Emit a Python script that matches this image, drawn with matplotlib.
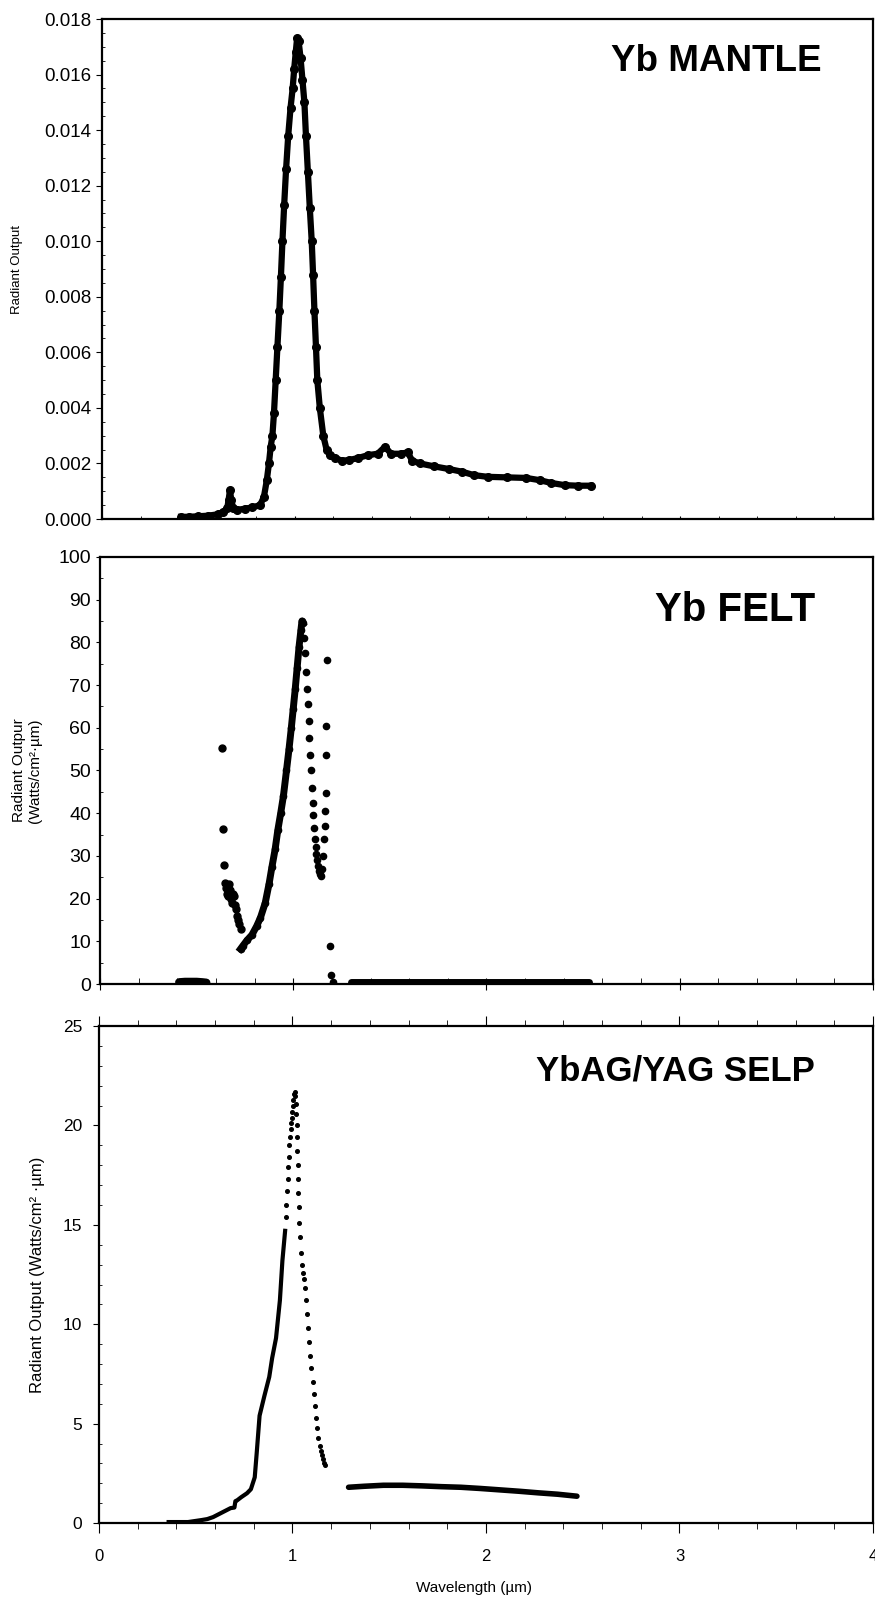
import matplotlib
matplotlib.use("Agg")
import matplotlib.pyplot as plt
from matplotlib.ticker import MultipleLocator, FormatStrFormatter

# ---- Yb MANTLE (top panel) ----
mantle_wl = [0.41, 0.45, 0.50, 0.55, 0.60, 0.63, 0.65, 0.657, 0.664, 0.67, 0.68, 0.70,
             0.74, 0.78, 0.82, 0.84, 0.855, 0.866, 0.875, 0.884, 0.892, 0.901, 0.910,
             0.920, 0.928, 0.936, 0.945, 0.955, 0.966, 0.978, 0.989, 0.997, 1.005, 1.012,
             1.020, 1.030, 1.040, 1.050, 1.058, 1.068, 1.078, 1.088, 1.095, 1.102, 1.110,
             1.117, 1.130, 1.148, 1.165, 1.183, 1.21, 1.243, 1.28, 1.33, 1.38, 1.43,
             1.468, 1.50, 1.55, 1.585, 1.61, 1.65, 1.72, 1.80, 1.87, 1.93, 2.00, 2.10,
             2.20, 2.27, 2.33, 2.40, 2.47, 2.535]
mantle_out = [0.00008, 0.00008, 0.0001, 0.00012, 0.00017, 0.00025, 0.0004, 0.0007, 0.00105,
              0.0007, 0.0004, 0.00033, 0.00037, 0.00042, 0.0005, 0.0008, 0.0014, 0.002,
              0.0026, 0.003, 0.0038, 0.005, 0.0062, 0.0075, 0.0087, 0.010, 0.0113, 0.0126,
              0.0138, 0.0148, 0.0155, 0.0162, 0.0168, 0.0173, 0.0172, 0.0166, 0.0158,
              0.0150, 0.0138, 0.0125, 0.0112, 0.0100, 0.0088, 0.0075, 0.0062, 0.0050,
              0.0040, 0.0030, 0.0025, 0.0023, 0.0022, 0.0021, 0.00212, 0.0022, 0.0023,
              0.00235, 0.0026, 0.00235, 0.00235, 0.0024, 0.0021, 0.0020, 0.0019, 0.0018,
              0.0017, 0.00158, 0.00152, 0.0015, 0.00148, 0.0014, 0.0013, 0.00122,
              0.0012, 0.0012]

# ---- Yb FELT (middle panel) ----
felt_low_wl = [0.41, 0.44, 0.47, 0.50, 0.53, 0.55]
felt_low_out = [0.4, 0.5, 0.5, 0.5, 0.4, 0.3]
felt_spot_wl = [0.632, 0.638, 0.641, 0.645, 0.652, 0.655, 0.660, 0.665, 0.672, 0.678,
                0.685, 0.690, 0.695, 0.700, 0.705, 0.710, 0.715, 0.720, 0.727]
felt_spot_out = [55.2, 36.2, 27.8, 23.7, 22.5, 21.0, 20.5, 23.5, 22.0, 20.0,
                 19.0, 21.0, 20.5, 18.5, 17.5, 16.0, 15.0, 14.0, 12.8]
felt_rise_wl = [0.727, 0.74, 0.76, 0.786, 0.81, 0.83, 0.855, 0.875, 0.89, 0.906, 0.92,
                0.935, 0.949, 0.965, 0.978, 0.99, 1.0, 1.01, 1.02, 1.03, 1.04, 1.045, 1.05]
felt_rise_out = [8.2, 9.0, 10.2, 11.5, 13.5, 15.5, 19.0, 23.5, 27.5, 31.5, 36.0,
                 40.0, 44.0, 50.0, 55.0, 60.0, 64.5, 69.0, 74.0, 79.0, 83.0, 85.0, 84.5]
felt_fall_wl = [1.058, 1.063, 1.068, 1.072, 1.076, 1.080, 1.084, 1.088, 1.092, 1.096,
                1.100, 1.104, 1.108, 1.112, 1.116, 1.120, 1.125, 1.130, 1.135, 1.140,
                1.146, 1.150, 1.155, 1.160, 1.163, 1.166, 1.168, 1.170, 1.171, 1.173,
                1.190, 1.196, 1.205]
felt_fall_out = [81.0, 77.4, 73.0, 69.0, 65.6, 61.5, 57.5, 53.7, 50.0, 46.0,
                 42.5, 39.5, 36.5, 34.0, 32.0, 30.5, 29.0, 27.6, 26.5, 25.8,
                 25.2, 27.0, 30.0, 34.0, 37.0, 40.6, 44.7, 53.7, 60.3, 75.8,
                 9.0, 2.1, 0.4]
felt_tail_wl = [1.30, 1.5, 1.8, 2.1, 2.3, 2.53]
felt_tail_out = [0.5, 0.5, 0.5, 0.5, 0.5, 0.5]

# ---- YbAG/YAG SELP (bottom panel) ----
selp_rise_wl = [0.36, 0.46, 0.53, 0.56, 0.59, 0.62, 0.65, 0.68, 0.70, 0.705, 0.715,
                0.735, 0.765, 0.785, 0.805, 0.815, 0.83, 0.855, 0.88, 0.895, 0.915, 0.935,
                0.948, 0.962]
selp_rise_out = [0.05, 0.05, 0.15, 0.2, 0.3, 0.45, 0.6, 0.75, 0.78, 1.1, 1.15,
                 1.3, 1.5, 1.7, 2.3, 3.5, 5.4, 6.4, 7.35, 8.3, 9.3, 11.2,
                 13.2, 14.7]
selp_peak_wl = [0.966, 0.969, 0.972, 0.975, 0.978, 0.981, 0.984, 0.987, 0.990, 0.993,
                0.996, 0.999, 1.002, 1.005, 1.008, 1.011, 1.014, 1.017, 1.019, 1.021,
                1.023, 1.025, 1.027, 1.029, 1.031, 1.033, 1.036, 1.039, 1.043, 1.048,
                1.053, 1.058, 1.063, 1.068, 1.074, 1.080, 1.086, 1.092, 1.098, 1.104,
                1.110, 1.116, 1.122, 1.128, 1.134, 1.140, 1.146, 1.152, 1.158, 1.164,
                1.168]
selp_peak_out = [15.4, 16.0, 16.7, 17.3, 17.9, 18.4, 19.0, 19.4, 19.8, 20.1,
                 20.4, 20.7, 21.0, 21.3, 21.6, 21.7, 21.5, 21.1, 20.6, 20.0,
                 19.4, 18.7, 18.0, 17.3, 16.6, 15.9, 15.1, 14.4, 13.6, 13.0,
                 12.6, 12.3, 11.8, 11.2, 10.5, 9.8, 9.1, 8.4, 7.8, 7.1,
                 6.5, 5.9, 5.3, 4.8, 4.3, 3.9, 3.6, 3.4, 3.2, 3.0,
                 2.9]
selp_tail_wl = [1.29, 1.37, 1.47, 1.57, 1.67, 1.77, 1.87, 1.97, 2.07, 2.17, 2.27,
                2.37, 2.47]
selp_tail_out = [1.8, 1.85, 1.9, 1.9, 1.87, 1.83, 1.8, 1.74, 1.67, 1.6, 1.52,
                 1.45, 1.35]

x_ticks = [0, 1, 2, 3, 4]

plt.rcParams['font.family'] = ['Liberation Sans', 'DejaVu Sans']

fig = plt.figure(figsize=(8.75, 15.99), dpi=100)

ax1 = fig.add_axes([0.1166, 0.6754, 0.8811, 0.3127])
ax2 = fig.add_axes([0.1143, 0.3846, 0.8834, 0.2671])
ax3 = fig.add_axes([0.1131, 0.0475, 0.8846, 0.3108])

for ax in (ax1, ax2, ax3):
    ax.set_xlim(0, 4)
    for s in ax.spines.values():
        s.set_linewidth(1.6)
        s.set_color('black')

# top panel
ax1.plot(mantle_wl, mantle_out, '-o', color='black', ms=5.5, lw=4.5)
ax1.set_ylim(0, 0.018)
ax1.yaxis.set_major_locator(MultipleLocator(0.002))
ax1.yaxis.set_minor_locator(MultipleLocator(0.0005))
ax1.yaxis.set_major_formatter(FormatStrFormatter('%.3f'))
ax1.xaxis.set_major_locator(MultipleLocator(1))
ax1.xaxis.set_minor_locator(MultipleLocator(0.2))
ax1.tick_params(axis='x', which='both', direction='in', length=2, labelbottom=False)
ax1.tick_params(axis='y', which='major', direction='out', length=4, labelsize=13.5)
ax1.tick_params(axis='y', which='minor', direction='in', length=2)
ax1.set_ylabel('Radiant Output', fontsize=9.5)
ax1.yaxis.set_label_coords(-0.102, 0.5)
ax1.text(0.933, 0.916, 'Yb MANTLE', transform=ax1.transAxes, ha='right', va='center',
         fontsize=26.5, fontweight='bold')

# middle panel
ax2.plot(felt_low_wl, felt_low_out, '-', color='black', lw=6, solid_capstyle='round')
ax2.plot(felt_spot_wl, felt_spot_out, 'o', color='black', ms=5)
ax2.plot(felt_rise_wl, felt_rise_out, '-o', color='black', ms=4.5, lw=5)
ax2.plot(felt_fall_wl, felt_fall_out, 'o', color='black', ms=4.5)
ax2.plot(felt_tail_wl, felt_tail_out, '-', color='black', lw=5, solid_capstyle='round')
ax2.set_ylim(0, 100)
ax2.yaxis.set_major_locator(MultipleLocator(10))
ax2.yaxis.set_minor_locator(MultipleLocator(5))
ax2.xaxis.set_major_locator(MultipleLocator(1))
ax2.xaxis.set_minor_locator(MultipleLocator(0.2))
ax2.tick_params(axis='x', which='major', direction='inout', length=8, labelbottom=False)
ax2.tick_params(axis='x', which='minor', direction='in', length=4)
ax2.tick_params(axis='y', which='major', direction='out', length=3, labelsize=14)
ax2.tick_params(axis='y', which='minor', direction='in', length=2)
ax2.set_ylabel('Radiant Outpur\n(Watts/cm²·µm)', fontsize=11, linespacing=1.15)
ax2.yaxis.set_label_coords(-0.075, 0.5)
ax2.text(0.925, 0.876, 'Yb FELT', transform=ax2.transAxes, ha='right', va='center',
         fontsize=29, fontweight='bold')

# bottom panel
ax3.plot(selp_rise_wl, selp_rise_out, '-', color='black', lw=3)
ax3.plot(selp_peak_wl, selp_peak_out, 'o', color='black', ms=2.6)
ax3.plot(selp_tail_wl, selp_tail_out, '-', color='black', lw=4, solid_capstyle='round')
ax3.set_ylim(0, 25)
ax3.set_xticks(x_ticks)
ax3.xaxis.set_minor_locator(MultipleLocator(0.2))
ax3.yaxis.set_major_locator(MultipleLocator(5))
ax3.yaxis.set_minor_locator(MultipleLocator(1))
ax3.tick_params(axis='x', which='major', direction='out', length=7, top=True,
                labelsize=12, pad=12)
ax3.tick_params(axis='x', which='minor', direction='out', length=4, top=True)
ax3.tick_params(axis='y', which='major', direction='out', length=4, labelsize=12.5, pad=8)
ax3.tick_params(axis='y', which='minor', direction='in', length=2)
ax3.set_ylabel('Radiant Output (Watts/cm² ·µm)', fontsize=12)
ax3.yaxis.set_label_coords(-0.070, 0.5)
ax3.text(0.925, 0.909, 'YbAG/YAG SELP', transform=ax3.transAxes, ha='right', va='center',
         fontsize=25, fontweight='bold')

fig.text(474 / 875, 1 - 1588 / 1599, 'Wavelength (µm)', ha='center', va='center',
         fontsize=11)

fig.savefig('out.png', dpi=100)
